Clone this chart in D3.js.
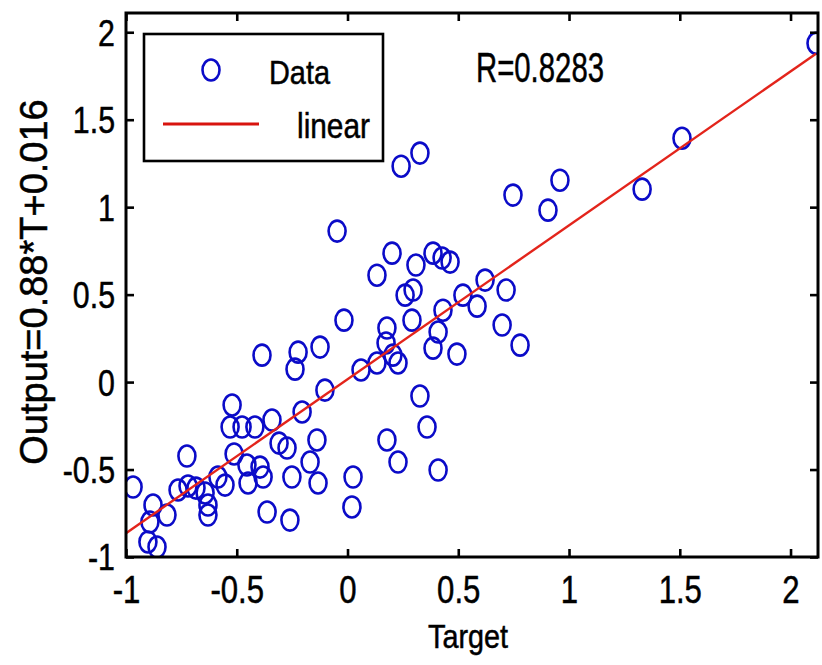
<!DOCTYPE html>
<html>
<head>
<meta charset="utf-8">
<script src="https://cdn.jsdelivr.net/npm/d3@7"></script>
<style>
  body { margin: 0; background: #fff; }
  svg text { font-family: "Liberation Sans", Arial, Helvetica, sans-serif; fill: #000; stroke: #000; stroke-width: 0.5px; }
</style>
</head>
<body>
<svg id="chart" width="822" height="665"></svg>
<script>
// Regression data: network target vs. output
const targetValues = [
  2.115, 1.510, 1.330, 0.959, 0.905, 0.747, 0.327, 0.242, -0.047,
  0.201, 0.133, 0.309, 0.386, 0.427, 0.463, 0.260, 0.296, 0.291, 0.431,
  0.521, 0.585, 0.621, 0.716, 0.698, 0.779, 0.409, 0.386, 0.494, 0.178,
  0.174, 0.205, 0.228, 0.133, 0.061, -0.016,
  0.327, 0.359, 0.409, 0.178, 0.228, 0.025, 0.020,
  -0.386, -0.223, -0.237, -0.124, -0.102, -0.205, -0.138, -0.309, -0.273,
  -0.169, -0.251, -0.133, -0.260, -0.363, -0.341, -0.418, -0.476, -0.530,
  -0.521, -0.512, -0.454, -0.395, -0.381, -0.449, -0.553, -0.585, -0.643,
  -0.630, -0.630, -0.725, -0.765, -0.720, -0.968, -0.878, -0.815, -0.892,
  -0.901, -0.860, -0.684
];
const outputValues = [
  1.937, 1.394, 1.103, 1.154, 0.983, 1.069, 1.309, 1.234, 0.863,
  0.737, 0.611, 0.669, 0.737, 0.709, 0.686, 0.497, 0.526, 0.354, 0.411,
  0.497, 0.434, 0.583, 0.526, 0.326, 0.211, 0.286, 0.194, 0.160, 0.309,
  0.223, 0.154, 0.109, 0.109, 0.069, 0.354,
  -0.080, -0.257, -0.503, -0.331, -0.457, -0.543, -0.714,
  0.154, 0.171, 0.074, 0.200, -0.046, -0.171, -0.331, -0.349, -0.377,
  -0.457, -0.543, -0.577, -0.789, -0.743, -0.217, -0.257, -0.257, -0.257,
  -0.131, -0.411, -0.474, -0.486, -0.543, -0.577, -0.589, -0.543, -0.634,
  -0.703, -0.760, -0.423, -0.617, -0.594, -0.600, -0.703, -0.760, -0.800,
  -0.914, -0.943, -0.606
];
const xTicks = [-1, -0.5, 0, 0.5, 1, 1.5, 2];
const yTicks = [-1, -0.5, 0, 0.5, 1, 1.5, 2];
const xDomain = [-1, 2.124];
const yDomain = [-1, 2.11];
const fitSlope = 0.88;
const fitIntercept = 0.016;
const rValue = "0.8283";
const legendLabels = ["Data", "linear"];

const points = targetValues.map((t, i) => ({ t, o: outputValues[i] }));

const svg = d3.select("#chart");
const plot = { left: 126, right: 818, top: 13, bottom: 557 };

const x = d3.scaleLinear().domain(xDomain).range([plot.left, plot.right]);
const y = d3.scaleLinear().domain(yDomain).range([plot.bottom, plot.top]);

const blue = "#0b0bc8";
const red = "#e3241b";
const squeeze = 0.82; // narrow lettering of the tick labels
const plainNumber = d => String(d); // keeps the ASCII hyphen as minus sign

svg.append("rect").attr("width", 822).attr("height", 665).attr("fill", "#fff");

svg.append("defs").append("clipPath").attr("id", "plotClip")
  .append("rect")
  .attr("x", plot.left).attr("y", plot.top)
  .attr("width", plot.right - plot.left).attr("height", plot.bottom - plot.top);

// data markers
const marks = svg.append("g").attr("clip-path", "url(#plotClip)");
marks.selectAll("ellipse.pt").data(points).join("ellipse")
  .attr("class", "pt")
  .attr("cx", d => x(d.t)).attr("cy", d => y(d.o))
  .attr("rx", 8.5).attr("ry", 10.5)
  .attr("fill", "none").attr("stroke", blue).attr("stroke-width", 2.6);

// fitted line
const lineX = [xDomain[0], d3.max(targetValues)];
marks.append("path")
  .datum(lineX)
  .attr("d", d3.line().x(t => x(t)).y(t => y(fitSlope * t + fitIntercept)))
  .attr("fill", "none").attr("stroke", red).attr("stroke-width", 2.4);

// axes with inward ticks on all four sides
const tickLen = 8;
const gx = svg.append("g").attr("transform", `translate(0,${plot.bottom})`)
  .call(d3.axisBottom(x).tickValues(xTicks).tickSizeInner(-tickLen).tickSizeOuter(0)
    .tickFormat(plainNumber));
const gy = svg.append("g").attr("transform", `translate(${plot.left},0)`)
  .call(d3.axisLeft(y).tickValues(yTicks).tickSizeInner(-tickLen).tickSizeOuter(0)
    .tickFormat(plainNumber));
const gt = svg.append("g").attr("transform", `translate(0,${plot.top})`)
  .call(d3.axisTop(x).tickValues(xTicks).tickSizeInner(-tickLen).tickSizeOuter(0).tickFormat(""));
const gr = svg.append("g").attr("transform", `translate(${plot.right},0)`)
  .call(d3.axisRight(y).tickValues(yTicks).tickSizeInner(-tickLen).tickSizeOuter(0).tickFormat(""));

[gx, gy, gt, gr].forEach(g => {
  g.select(".domain").remove();
  g.selectAll(".tick line").attr("stroke", "#000").attr("stroke-width", 2.6);
});

gx.selectAll(".tick text")
  .attr("font-size", 38).attr("font-family", null).attr("fill", null)
  .attr("dy", null).attr("y", 46).attr("x", 0)
  .attr("transform", `scale(${squeeze},1)`);

gy.selectAll(".tick text")
  .attr("font-size", 37).attr("font-family", null).attr("fill", null)
  .attr("dy", "0.35em").attr("x", -11 / squeeze)
  .attr("transform", `scale(${squeeze},1)`);

// frame
svg.append("rect")
  .attr("x", plot.left).attr("y", plot.top)
  .attr("width", plot.right - plot.left).attr("height", plot.bottom - plot.top)
  .attr("fill", "none").attr("stroke", "#000").attr("stroke-width", 3);

// axis titles
svg.append("text")
  .attr("x", 468).attr("y", 648)
  .attr("text-anchor", "middle").attr("font-size", 33)
  .attr("textLength", 80).attr("lengthAdjust", "spacingAndGlyphs")
  .text("Target");

svg.append("text")
  .attr("transform", `translate(47,${(plot.top + plot.bottom) / 2 - 3}) rotate(-90)`)
  .attr("text-anchor", "middle").attr("font-size", 38)
  .text(`Output=${fitSlope}*T+${fitIntercept}`);

// correlation annotation
svg.append("text")
  .attr("x", 476).attr("y", 82).attr("font-size", 42)
  .attr("textLength", 128).attr("lengthAdjust", "spacingAndGlyphs")
  .text(`R=${rValue}`);

// legend
const legend = svg.append("g");
legend.append("rect")
  .attr("x", 144).attr("y", 34).attr("width", 239).attr("height", 127)
  .attr("fill", "#fff").attr("stroke", "#000").attr("stroke-width", 2.6);
legend.append("ellipse")
  .attr("cx", 211).attr("cy", 70).attr("rx", 8.5).attr("ry", 10.5)
  .attr("fill", "none").attr("stroke", blue).attr("stroke-width", 2.6);
legend.append("text")
  .attr("x", 269).attr("y", 84).attr("font-size", 34)
  .attr("textLength", 61).attr("lengthAdjust", "spacingAndGlyphs")
  .text(legendLabels[0]);
legend.append("line")
  .attr("x1", 163).attr("x2", 259).attr("y1", 124).attr("y2", 124)
  .attr("stroke", "#d8140e").attr("stroke-width", 3);
legend.append("text")
  .attr("x", 297).attr("y", 138).attr("font-size", 35)
  .attr("textLength", 73).attr("lengthAdjust", "spacingAndGlyphs")
  .text(legendLabels[1]);
</script>
</body>
</html>
